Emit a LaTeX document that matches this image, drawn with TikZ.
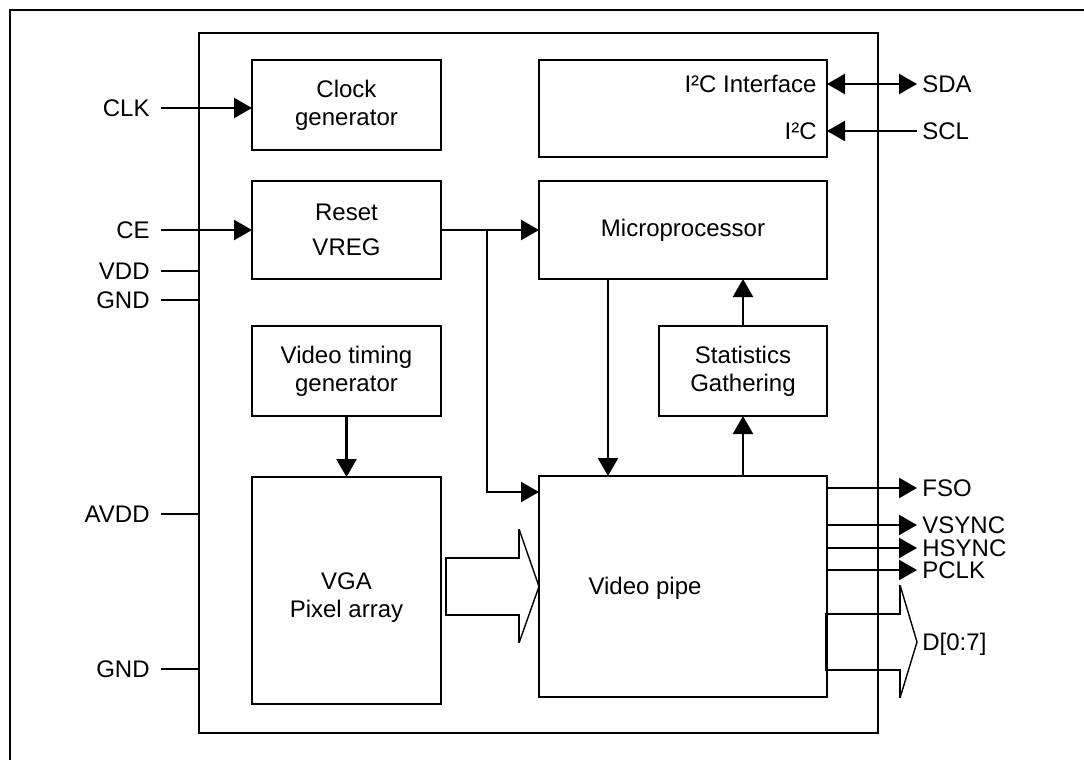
\documentclass[tikz,border=0pt]{standalone}
\usepackage{fontspec}
\setmainfont{Liberation Sans}
\usetikzlibrary{arrows.meta}

\tikzset{
  blk/.style={draw, line width=1.3pt, inner sep=0pt, outer sep=0pt, align=center},
  wire/.style={line width=1.2pt},
  sig/.style={wire, -{Triangle[length=9pt,width=10pt]}},
  bisig/.style={wire, {Triangle[length=9pt,width=10pt]}-{Triangle[length=9pt,width=10pt]}},
  pinl/.style={anchor=east, inner xsep=5.5pt, inner ysep=0pt, text height=8.6pt, text depth=0pt},
  pinr/.style={anchor=west, inner xsep=2.5pt, inner ysep=0pt, text height=8.6pt, text depth=0pt},
}

\begin{document}
\begin{tikzpicture}[x=0.5pt, y=-0.5pt, font=\fontsize{12}{14}\selectfont]
  \useasboundingbox (0,0) rectangle (1084,760);
  \draw[wire] (10,760) |- (1084,10);

  \node[blk, minimum width=339.5pt, minimum height=350pt] (chip) at (538.5,383) {};

  \node[blk, minimum width=94.5pt, minimum height=45pt] (clk) at (346.5,105) {Clock\\generator};
  \node[blk, minimum width=94.5pt, minimum height=49pt] (rst) at (346.5,230) {Reset\\[3.5pt]VREG};
  \node[blk, minimum width=94.5pt, minimum height=45pt] (vtg) at (346.5,371) {Video timing\\generator};
  \node[blk, minimum width=94.5pt, minimum height=113.5pt] (pix) at (346.5,590.5) {};
  \node[align=center] (pixtxt) at (346.5,598) {VGA\\Pixel array};
  \node[blk, minimum width=144pt, minimum height=48.5pt] (i2c) at (683,108.5) {};
  \node[blk, minimum width=144pt, minimum height=49pt] (mcu) at (683,230) {Microprocessor};
  \node[blk, minimum width=84pt, minimum height=45pt] (stat) at (743,371) {Statistics\\Gathering};
  \node[blk, minimum width=144pt, minimum height=110.5pt] (pipe) at (683,586.5) {};
  \node (pipetxt) at (645,588) {Video pipe};

  \node[pinl] (clkl) at (161,108) {CLK};
  \node[pinl] (cel) at (161,230) {CE};
  \node[pinl] (vddl) at (161,271) {VDD};
  \node[pinl] (gndl) at (161,300) {GND};
  \node[pinl] (avddl) at (161,514) {AVDD};
  \node[pinl] (gndbl) at (161,669) {GND};

  \node[pinr] (sda) at (917,84) {SDA};
  \node[pinr] (scl) at (917,131) {SCL};
  \node[pinr] (fso) at (917,488) {FSO};
  \node[pinr] (vsync) at (917,525) {VSYNC};
  \node[pinr] (hsync) at (917,548) {HSYNC};
  \node[pinr] (pclk) at (917,570) {PCLK};
  \node[pinr] (dbus) at (917,642) {D[0:7]};

  \node[pinl, inner xsep=5pt] (i2cif) at (sda.west -| i2c.east) {I²C Interface};
  \node[pinl, inner xsep=5pt] (i2cscl) at (scl.west -| i2c.east) {I²C};

  \draw[sig] (clkl.east) -- (clkl.east -| clk.west);
  \draw[sig] (cel.east) -- (cel.east -| rst.west);
  \foreach \p in {vddl, gndl, avddl, gndbl}
    \draw[wire] (\p.east) -- (\p.east -| chip.west);

  \draw[bisig] (sda.west -| i2c.east) -- (sda.west);
  \draw[sig] (scl.west) -- (scl.west -| i2c.east);
  \foreach \p in {fso, vsync, hsync, pclk}
    \draw[sig] (\p.west -| pipe.east) -- (\p.west);

  \draw[sig] (rst.east) -- (mcu.west);
  \coordinate (junc) at (487,230);
  \draw[sig] (junc) |- ([yshift=-8pt]pipe.north west);
  \draw[sig] ([xshift=-37.5pt]mcu.south) -- ([xshift=-37.5pt]pipe.north);
  \draw[sig] (pipe.north -| stat.south) -- (stat.south);
  \draw[sig] (stat.north) -- (stat.north |- mcu.south);
  \draw[sig] (vtg.south) -- (pix.north);

  \draw[wire] (519,529) -- (519,558) -- (446,558) -- (446,615) -- (519,615) -- (519,643);
  \draw[line width=0.7pt] (519,529) -- (pipe.west) -- (519,643);
  \draw[wire] (900,585) -- (900,614) -- (826,614) -- (826,670) -- (900,670) -- (900,698);
  \draw[line width=0.7pt] (900,585) -- (dbus.west) -- (900,698);
\end{tikzpicture}
\end{document}
